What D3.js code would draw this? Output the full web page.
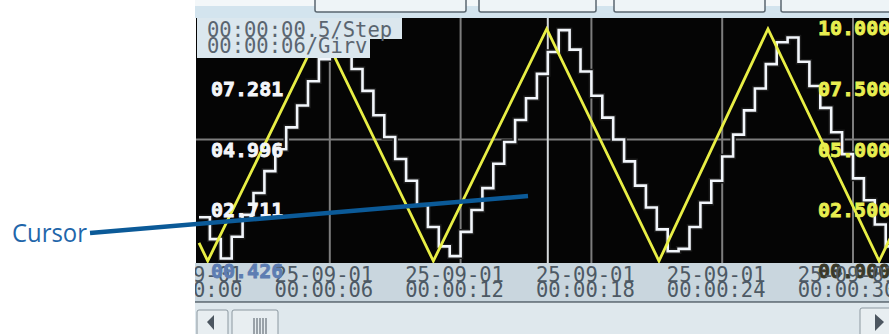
<!DOCTYPE html>
<head>
<meta charset="utf-8">
<style>
body { margin: 0; background: #fff; }
.lbl { font: bold 20px "DejaVu Sans Mono", monospace; }
.tick { font: 20.5px "DejaVu Sans Mono", monospace; fill: #4d5964; }
</style>
<title>Cursor</title>
</head>
<body>
<svg width="889" height="334"></svg>
<script src="https://cdn.jsdelivr.net/npm/d3@7"></script>
<script>
// time axis (seconds) and its labels
var timeTicks = [0, 6, 12, 18, 24, 30]
var dateLabel = "25-09-01"
var timeLabels = ["00:00:00", "00:00:06", "00:00:12", "00:00:18", "00:00:24", "00:00:30"]

// right (yellow) axis
var rightTicks = [0, 2.5, 5, 7.5, 10]
var rightLabels = ["00.000", "02.500", "05.000", "07.500", "10.000"]

// left (white) axis
var leftTicks = [0.426, 2.711, 4.996, 7.281]
var leftLabels = ["00.426", "02.711", "04.996", "07.281"]

// yellow triangle: corner points
var yellowT = [0, 0.4, 5.6, 10.75, 15.95, 21.1, 26.1, 31.2, 32.5]
var yellowV = [0.75, 0, 9.55, 0, 9.55, 0, 9.55, 0, 2.4]

// white staircase, one value per 0.5 s step
var stepSize = 0.5
var whiteV = [1.8, 0.9, 0.1, 1.0, 1.9, 2.8, 3.7, 4.6, 5.5, 6.4,
  7.4, 8.3, 9.3, 8.8, 7.9, 7.0, 6.0, 5.1, 4.2, 3.3,
  2.3, 1.4, 0.6, 0.2, 1.2, 2.1, 3.0, 4.0, 4.9, 5.8,
  6.7, 7.7, 8.6, 9.5, 8.7, 7.8, 6.8, 5.9, 5.0, 4.1,
  3.1, 2.2, 1.3, 0.4, 0.5, 1.4, 2.4, 3.3, 4.3, 5.2,
  6.2, 7.1, 8.1, 9.0, 9.2, 8.2, 7.2, 6.3, 5.3, 4.4,
  3.4, 2.5, 1.5, 0.6]

var cursorT = 16.0
var infoLines = ["00:00:00.5/Step", "00:00:06/Girv"]

var svg = d3.select("svg")
var plot = {left: 196, right: 889, top: 18, bottom: 263}

var x = d3.scaleLinear().domain([0, 32]).range([199, 199 + 32 * 21.8])
var yR = d3.scaleLinear().domain([0, 10]).range([261, 18])
var yL = d3.scaleLinear().domain([0.426, 9.566]).range([261, 18])

svg.append("defs").append("clipPath").attr("id", "scr")
  .append("rect").attr("x", 195).attr("y", 0).attr("width", 694).attr("height", 334)
svg.select("defs").append("clipPath").attr("id", "pl")
  .append("rect").attr("x", plot.left).attr("y", plot.top)
  .attr("width", plot.right - plot.left).attr("height", plot.bottom - plot.top)

var scr = svg.append("g").attr("clip-path", "url(#scr)")

// top strip with buttons
scr.append("rect").attr("x", 195).attr("y", 0).attr("width", 694).attr("height", 18).attr("fill", "#d3e4ee")
scr.append("rect").attr("x", 195).attr("y", 0).attr("width", 694).attr("height", 6).attr("fill", "#f3f7f9")
var buttons = [[315, 466], [479, 596], [614, 765], [781, 905]]
scr.selectAll(".btn").data(buttons).enter().append("rect")
  .attr("x", d => d[0]).attr("y", -6).attr("width", d => d[1] - d[0]).attr("height", 18)
  .attr("rx", 2).attr("fill", "#eef4f7").attr("stroke", "#5a6670").attr("stroke-width", 1.5)

// plot area
scr.append("rect").attr("x", plot.left).attr("y", plot.top)
  .attr("width", plot.right - plot.left).attr("height", plot.bottom - plot.top).attr("fill", "#050505")

var g = scr.append("g").attr("clip-path", "url(#pl)")

g.selectAll(".vgrid").data(timeTicks.filter(t => t > 0)).enter().append("line")
  .attr("x1", d => x(d)).attr("x2", d => x(d)).attr("y1", plot.top).attr("y2", plot.bottom)
  .attr("stroke", "#7d7d7d").attr("stroke-width", 2)
g.append("line").attr("x1", plot.left).attr("x2", plot.right)
  .attr("y1", yR(5)).attr("y2", yR(5)).attr("stroke", "#7d7d7d").attr("stroke-width", 2)

// cursor
g.append("line").attr("x1", x(cursorT)).attr("x2", x(cursorT)).attr("y1", plot.top).attr("y2", plot.bottom)
  .attr("stroke", "#d4d8da").attr("stroke-width", 2)

var yellow = yellowT.map((t, i) => [t, yellowV[i]])
var white = whiteV.map((v, i) => [i * stepSize, v])
white.push([whiteV.length * stepSize, whiteV[whiteV.length - 1]])

var wline = d3.line().x(d => x(d[0])).y(d => yR(d[1])).curve(d3.curveStepAfter)
g.append("path").datum(white).attr("d", wline)
  .attr("fill", "none").attr("stroke", "#1b1b1b").attr("stroke-width", 5.5)
g.append("path").datum(white).attr("d", wline)
  .attr("fill", "none").attr("stroke", "#f2f6fb").attr("stroke-width", 2.6)

g.append("path").datum(yellow)
  .attr("d", d3.line().x(d => x(d[0])).y(d => yR(d[1])))
  .attr("fill", "none").attr("stroke", "#e8ee45").attr("stroke-width", 2.8)

// axis labels inside the plot
scr.selectAll(".ll").data(leftTicks).enter().append("text")
  .attr("class", "lbl").attr("x", 211).attr("y", d => yL(d) + 17)
  .attr("fill", (d, i) => i == 0 ? "#5d7db2" : "#f4f6fa")
  .attr("stroke", (d, i) => i == 0 ? "#5d7db2" : "#f4f6fa").attr("stroke-width", 0.8)
  .style("paint-order", "stroke")
  .text((d, i) => leftLabels[i])
scr.selectAll(".rl").data(rightTicks).enter().append("text")
  .attr("class", "lbl").attr("x", 818).attr("y", d => yR(d) + 17)
  .attr("fill", (d, i) => i == 0 ? "#3a3a2a" : "#e8ee50")
  .attr("stroke", (d, i) => i == 0 ? "#3a3a2a" : "#e8ee50").attr("stroke-width", 0.8)
  .text((d, i) => rightLabels[i])

// info box
scr.append("rect").attr("x", 197).attr("y", 18).attr("width", 205).attr("height", 21).attr("fill", "#dbe7ee")
scr.append("rect").attr("x", 197).attr("y", 38).attr("width", 173).attr("height", 20).attr("fill", "#dbe7ee")
scr.selectAll(".info").data(infoLines).enter().append("text")
  .attr("class", "tick").attr("x", 207).attr("y", (d, i) => 37 + i * 16)
  .style("fill", "#5a6570").text(d => d)

// time axis strip
var strip = scr.insert("g", "text")
strip.append("rect").attr("x", 195).attr("y", plot.bottom).attr("width", 694).attr("height", 39).attr("fill", "#c9d6de")
strip.append("line").attr("x1", 195).attr("x2", 889).attr("y1", 302).attr("y2", 302)
  .attr("stroke", "#56636c").attr("stroke-width", 1.5)
strip.append("rect").attr("x", 195).attr("y", 303).attr("width", 694).attr("height", 31).attr("fill", "#dfe8ed")

var ticks = scr.append("g")
ticks.selectAll(".d").data(timeTicks).enter().append("text")
  .attr("class", "tick").attr("text-anchor", "middle").attr("x", d => x(d) - 6).attr("y", 282)
  .text(dateLabel)
ticks.selectAll(".t").data(timeTicks).enter().append("text")
  .attr("class", "tick").attr("text-anchor", "middle").attr("x", d => x(d) - 6).attr("y", 297)
  .text((d, i) => timeLabels[i])
scr.node().appendChild(scr.selectAll(".lbl").filter((d, i) => d == 0.426).node())

// scrollbar
var sb = scr.append("g")
sb.append("rect").attr("x", 197).attr("y", 310).attr("width", 31).attr("height", 30).attr("rx", 2)
  .attr("fill", "#e8eef1").attr("stroke", "#8c98a0")
sb.append("path").attr("d", "M207,322 L214,315 L214,330 Z").attr("fill", "#4c5660")
sb.append("rect").attr("x", 232).attr("y", 310).attr("width", 46).attr("height", 30).attr("rx", 2)
  .attr("fill", "#e8eef1").attr("stroke", "#8c98a0")
sb.selectAll(".grip").data([0, 1, 2, 3, 4]).enter().append("line")
  .attr("x1", d => 254 + d * 3).attr("x2", d => 254 + d * 3).attr("y1", 318).attr("y2", 334)
  .attr("stroke", "#4c5660").attr("stroke-width", 1)
sb.append("rect").attr("x", 860).attr("y", 308).attr("width", 35).attr("height", 30).attr("rx", 2)
  .attr("fill", "#e8eef1").attr("stroke", "#8c98a0")
sb.append("path").attr("d", "M884,322 L875,314 L875,331 Z").attr("fill", "#4c5660")

// annotation
svg.append("line").attr("x1", 90).attr("y1", 233).attr("x2", 528).attr("y2", 196)
  .attr("stroke", "#0b5a98").attr("stroke-width", 4.5)
svg.append("text").attr("x", 12).attr("y", 242)
  .attr("textLength", 75).attr("lengthAdjust", "spacingAndGlyphs")
  .style("font", "26px 'Open Sans', sans-serif").attr("fill", "#1f66aa")
  .text("Cursor")
</script>
</body>
